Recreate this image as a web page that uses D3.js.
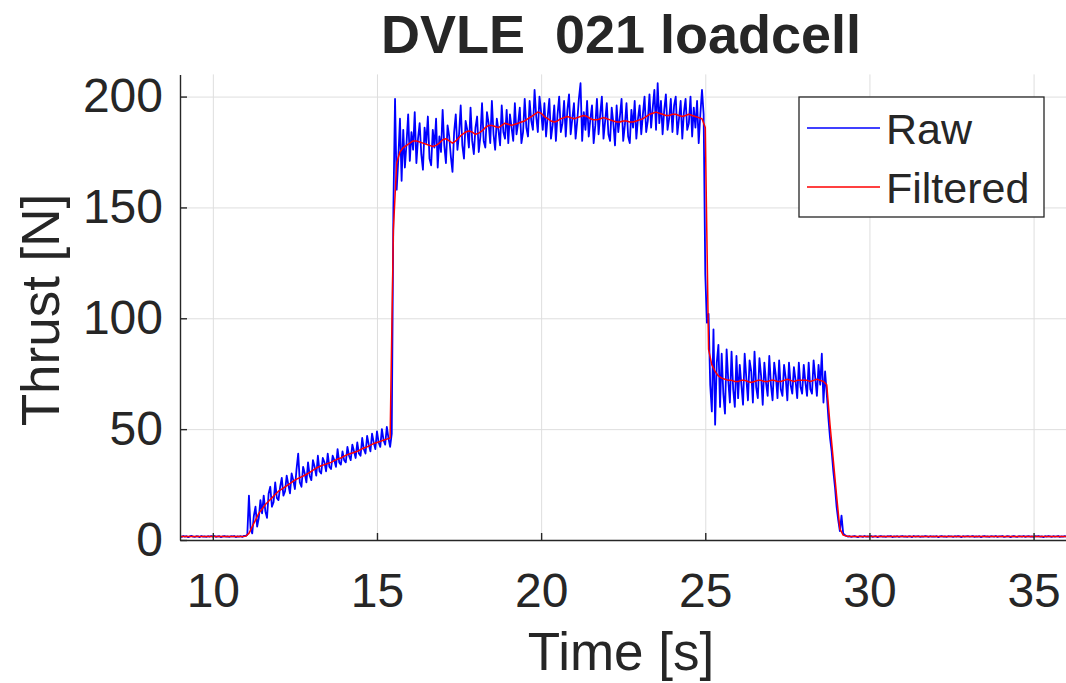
<!DOCTYPE html>
<html>
<head>
<meta charset="utf-8">
<script src="https://cdn.jsdelivr.net/npm/d3@7"></script>
<style>
  body { margin: 0; background: #fff; }
  svg { display: block; }
  text { font-family: "Liberation Sans", Arial, Helvetica, sans-serif; fill: #262626; }
</style>
</head>
<body>
<svg id="chart" width="1066" height="683"></svg>
<script>
// ---- Test record: DVLE 021, load cell thrust ----
const chartTitle = "DVLE  021 loadcell";
const xLabel = "Time [s]";
const yLabel = "Thrust [N]";
const seriesNames = ["Raw", "Filtered"];
const xTicks = [10, 15, 20, 25, 30, 35];
const yTicks = [0, 50, 100, 150, 200];

const recordStart = 9.0;   // s
const rawStep = 0.05;      // s, raw load cell sampling
const filteredStep = 0.1;  // s, filtered output sampling

// raw load cell output [N], one row per second (t = k.00 ... k.95)
const rawThrust = [
  1.6, 1.4, 1.8, 1.5, 1.7, 1.3, 1.6, 1.9, 1.5, 1.4, 1.7, 1.6, 1.3, 1.8, 1.5, 1.6, 1.4, 1.7, 1.5, 1.8,   // 9
  1.5, 1.8, 1.4, 1.6, 1.7, 1.3, 1.6, 1.8, 1.5, 1.6, 1.4, 1.7, 1.6, 1.8, 1.3, 1.6, 1.5, 1.7, 1.4, 1.9,   // 10
  1.8, 2.4, 20, 5, 3, 11, 15, 6, 10, 18, 12, 20, 13, 10, 21, 24, 15, 17, 26, 19,                       // 11
  18, 24, 28, 20, 22, 29, 25, 21, 30, 27, 23, 32, 39, 26, 24, 33, 30, 26, 35, 29,                      // 12
  27, 36, 33, 29, 38, 31, 30, 37, 35, 31, 39, 33, 32, 38, 36, 33, 41, 35, 34, 40,                      // 13
  36, 35, 42, 38, 36, 43, 40, 37, 44, 39, 38, 46, 41, 39, 47, 43, 40, 48, 44, 41,                      // 14
  49, 44, 42, 50, 45, 43, 51, 46, 42, 48, 150, 199, 158, 172, 190, 162, 185, 168, 179, 192,            // 15
  171, 184, 176, 193, 170, 181, 188, 174, 167, 186, 179, 191, 172, 169, 185, 177, 190, 168, 182, 175,  // 16
  194, 178, 170, 187, 182, 173, 166, 184, 192, 176, 183, 196, 178, 172, 189, 185, 177, 195, 180, 174,  // 17
  186, 191, 175, 182, 197, 180, 177, 193, 188, 179, 198, 183, 176, 190, 185, 178, 196, 184, 181, 194,  // 18
  179, 192, 186, 180, 197, 183, 188, 195, 179, 184, 199, 186, 182, 198, 189, 185, 203, 191, 184, 200,  // 19
  193, 185, 197, 182, 191, 199, 181, 187, 196, 180, 192, 200, 184, 188, 198, 182, 194, 201, 183, 190,  // 20
  197, 181, 189, 199, 206, 180, 193, 185, 198, 182, 190, 196, 179, 187, 199, 183, 192, 200, 181, 189,  // 21
  197, 183, 180, 195, 188, 178, 196, 184, 191, 199, 180, 187, 197, 182, 179, 194, 186, 198, 181, 190,  // 22
  196, 183, 192, 200, 184, 189, 201, 186, 195, 203, 185, 206, 188, 198, 183, 194, 201, 185, 190, 199,  // 23
  184, 196, 200, 183, 190, 198, 181, 193, 199, 185, 188, 200, 182, 195, 186, 198, 179, 192, 203, 192,  // 24
  120, 98, 102, 70, 58, 95, 52, 80, 88, 60, 84, 66, 57, 86, 72, 62, 85, 68, 60, 83,                    // 25
  64, 79, 70, 61, 84, 73, 63, 81, 76, 62, 85, 69, 64, 82, 74, 61, 80, 71, 65, 83,                      // 26
  70, 63, 80, 74, 64, 81, 68, 65, 79, 73, 63, 80, 70, 66, 78, 72, 64, 80, 69, 66,                      // 27
  79, 71, 65, 80, 68, 66, 81, 73, 65, 79, 70, 84, 62, 76, 66, 55, 46, 40, 31, 24,                      // 28
  15, 9, 4, 11, 3, 2.2, 1.8, 1.5, 1.7, 1.4, 1.6, 1.8, 1.5, 1.3, 1.7, 1.6, 1.4, 1.8, 1.5, 1.6,          // 29
  1.5, 1.8, 1.4, 1.6, 1.7, 1.3, 1.6, 1.8, 1.5, 1.6, 1.4, 1.7, 1.6, 1.8, 1.3, 1.6, 1.5, 1.7, 1.4, 1.6,   // 30
  1.8, 1.5, 1.6, 1.4, 1.7, 1.6, 1.3, 1.8, 1.5, 1.6, 1.7, 1.4, 1.6, 1.5, 1.8, 1.6, 1.4, 1.7, 1.5, 1.6,   // 31
  1.5, 1.7, 1.3, 1.6, 1.8, 1.5, 1.6, 1.4, 1.7, 1.6, 1.6, 1.4, 1.7, 1.5, 1.8, 1.6, 1.3, 1.7, 1.5, 1.6,   // 32
  1.7, 1.5, 1.6, 1.8, 1.4, 1.6, 1.5, 1.7, 1.3, 1.6, 1.8, 1.5, 1.6, 1.4, 1.7, 1.6, 1.5, 1.8, 1.4, 1.6,   // 33
  1.6, 1.8, 1.4, 1.5, 1.7, 1.6, 1.3, 1.6, 1.8, 1.5, 1.4, 1.7, 1.6, 1.5, 1.8, 1.4, 1.6, 1.7, 1.5, 1.6,   // 34
  1.4, 1.7, 1.6, 1.8, 1.5, 1.6, 1.3, 1.7, 1.5, 1.8, 1.6, 1.4, 1.7, 1.5, 1.6, 1.8, 1.4, 1.6, 1.5, 1.7,   // 35
  1.6                                                                                                    // 36
];

// low-pass filtered thrust [N], one row per second (t = k.0 ... k.9)
const filteredThrust = [
  1.6, 1.6, 1.6, 1.6, 1.6, 1.6, 1.6, 1.6, 1.6, 1.6,                // 9
  1.6, 1.6, 1.6, 1.6, 1.6, 1.6, 1.6, 1.6, 1.6, 1.6,                // 10
  1.7, 3, 6, 9, 12, 14, 16, 17.5, 19, 20.5,                        // 11
  22, 23, 24, 25, 26, 27, 27.8, 28.5, 29.2, 30,                    // 12
  31, 32, 32.8, 33.5, 34, 34.5, 35, 35.8, 36.5, 37,                // 13
  37.8, 38.5, 39, 39.5, 40, 40.8, 41.5, 42, 42.8, 43.5,            // 14
  44, 44.5, 45, 45.5, 46, 140, 170, 175, 177, 178,                 // 15
  179, 180, 180, 179.5, 179, 178.5, 178, 177.5, 178, 179,          // 16
  180.5, 181, 180, 179, 180, 181.5, 183, 184, 184.5, 184,          // 17
  183, 183.5, 184.5, 186, 187, 187, 186.5, 186, 187, 188,          // 18
  187.5, 187, 187.5, 188, 188.5, 189, 190, 191, 192, 193,          // 19
  192.5, 191, 190, 189, 188.5, 189, 190, 190.5, 191, 190.5,        // 20
  190, 190.5, 191, 191.5, 191, 190, 189.5, 189.5, 190, 190.5,      // 21
  190, 189.5, 189, 188.5, 188.5, 189, 189, 188.5, 188.5, 189,      // 22
  189.5, 190, 191, 192, 192.5, 193, 192.5, 192, 191.5, 191.5,      // 23
  192, 192, 191.5, 191, 191.5, 192, 191.5, 191, 190.5, 190,        // 24
  186, 86, 79, 76, 74, 73, 72.5, 72, 72, 71.5,                     // 25
  71.5, 72, 72, 71.5, 71, 71.5, 72, 72, 71.5, 71.5,                // 26
  72, 72, 71.5, 71.5, 72, 72.5, 72, 71.5, 72, 72,                  // 27
  72, 72, 71.5, 72, 72.5, 72, 71.5, 70, 52, 36,                    // 28
  20, 5, 2.2, 1.8, 1.6, 1.6, 1.6, 1.6, 1.6, 1.6,                   // 29
  1.6, 1.6, 1.6, 1.6, 1.6, 1.6, 1.6, 1.6, 1.6, 1.6,                // 30
  1.6, 1.6, 1.6, 1.6, 1.6, 1.6, 1.6, 1.6, 1.6, 1.6,                // 31
  1.6, 1.6, 1.6, 1.6, 1.6, 1.6, 1.6, 1.6, 1.6, 1.6,                // 32
  1.6, 1.6, 1.6, 1.6, 1.6, 1.6, 1.6, 1.6, 1.6, 1.6,                // 33
  1.6, 1.6, 1.6, 1.6, 1.6, 1.6, 1.6, 1.6, 1.6, 1.6,                // 34
  1.6, 1.6, 1.6, 1.6, 1.6, 1.6, 1.6, 1.6, 1.6, 1.6,                // 35
  1.6                                                              // 36
];

const seriesColors = ["#0000ff", "#ff0000"];

// ---- layout ----
const svg = d3.select("#chart");
const plot = { left: 180, right: 1066.4, top: 74.4, bottom: 540 };

const x = d3.scaleLinear().domain([9, 36]).range([plot.left, plot.right]);
const y = d3.scaleLinear().domain([0, 210]).range([plot.bottom, plot.top]);

svg.append("rect").attr("width", 1066).attr("height", 683).attr("fill", "#fff");

svg.append("defs").append("clipPath").attr("id", "plot-clip")
  .append("rect")
  .attr("x", plot.left).attr("y", plot.top)
  .attr("width", plot.right - plot.left).attr("height", plot.bottom - plot.top);

// grid
const grid = svg.append("g").attr("class", "grid");
grid.append("g")
  .attr("transform", `translate(0,${plot.bottom})`)
  .call(d3.axisBottom(x).tickValues(xTicks).tickSize(-(plot.bottom - plot.top)).tickFormat(""))
  .call(g => g.select(".domain").remove());
grid.append("g")
  .attr("transform", `translate(${plot.left},0)`)
  .call(d3.axisLeft(y).tickValues(yTicks).tickSize(-(plot.right - plot.left)).tickFormat(""))
  .call(g => g.select(".domain").remove());
grid.selectAll("line").attr("stroke", "#dedede").attr("stroke-width", 1);

// series
const timeAt = step => (_, i) => +(recordStart + i * step).toFixed(2);
const rawTime = rawThrust.map(timeAt(rawStep));
const filteredTime = filteredThrust.map(timeAt(filteredStep));

const lineFor = times => d3.line().x((d, i) => x(times[i])).y(d => y(d));

const series = svg.append("g").attr("clip-path", "url(#plot-clip)");
series.append("path")
  .datum(rawThrust)
  .attr("d", lineFor(rawTime))
  .attr("fill", "none")
  .attr("stroke", seriesColors[0])
  .attr("stroke-width", 1.8)
  .attr("stroke-linejoin", "round");
series.append("path")
  .datum(filteredThrust)
  .attr("d", lineFor(filteredTime))
  .attr("fill", "none")
  .attr("stroke", seriesColors[1])
  .attr("stroke-width", 1.5)
  .attr("stroke-linejoin", "round");

// axes (ticks pointing inward)
const xAxis = svg.append("g")
  .attr("transform", `translate(0,${plot.bottom})`)
  .call(d3.axisBottom(x).tickValues(xTicks).tickSize(-7).tickSizeOuter(0).tickPadding(33));
const yAxis = svg.append("g")
  .attr("transform", `translate(${plot.left},0)`)
  .call(d3.axisLeft(y).tickValues(yTicks).tickSize(-7).tickSizeOuter(0).tickPadding(17));

[xAxis, yAxis].forEach(a => {
  a.select(".domain").attr("stroke", "#262626").attr("stroke-width", 1.4);
  a.selectAll(".tick line").attr("stroke", "#262626").attr("stroke-width", 1.4);
  a.selectAll(".tick text")
    .attr("fill", "#262626")
    .style("font-size", "48px")
    .style("font-family", "'Liberation Sans', Arial, sans-serif");
});

// title and axis labels
svg.append("text")
  .attr("x", 621).attr("y", 53)
  .attr("text-anchor", "middle")
  .style("font-size", "54px").style("font-weight", "bold")
  .style("white-space", "pre")
  .attr("fill", "#000")
  .text(chartTitle);

svg.append("text")
  .attr("x", 621).attr("y", 670)
  .attr("text-anchor", "middle")
  .style("font-size", "53px")
  .text(xLabel);

svg.append("text")
  .attr("transform", "translate(59,310) rotate(-90)")
  .attr("text-anchor", "middle")
  .style("font-size", "53px")
  .text(yLabel);

// legend
const legend = svg.append("g");
legend.append("rect")
  .attr("x", 799).attr("y", 97).attr("width", 245).attr("height", 120)
  .attr("fill", "#fff").attr("stroke", "#262626").attr("stroke-width", 1.3);
const legendRows = [128, 187];
seriesNames.forEach((name, i) => {
  legend.append("line")
    .attr("x1", 807).attr("x2", 880)
    .attr("y1", legendRows[i]).attr("y2", legendRows[i])
    .attr("stroke", seriesColors[i]).attr("stroke-width", 1.5);
  legend.append("text")
    .attr("x", 886).attr("y", legendRows[i] + 16)
    .style("font-size", "43px")
    .attr("fill", "#000")
    .text(name);
});
</script>
</body>
</html>
